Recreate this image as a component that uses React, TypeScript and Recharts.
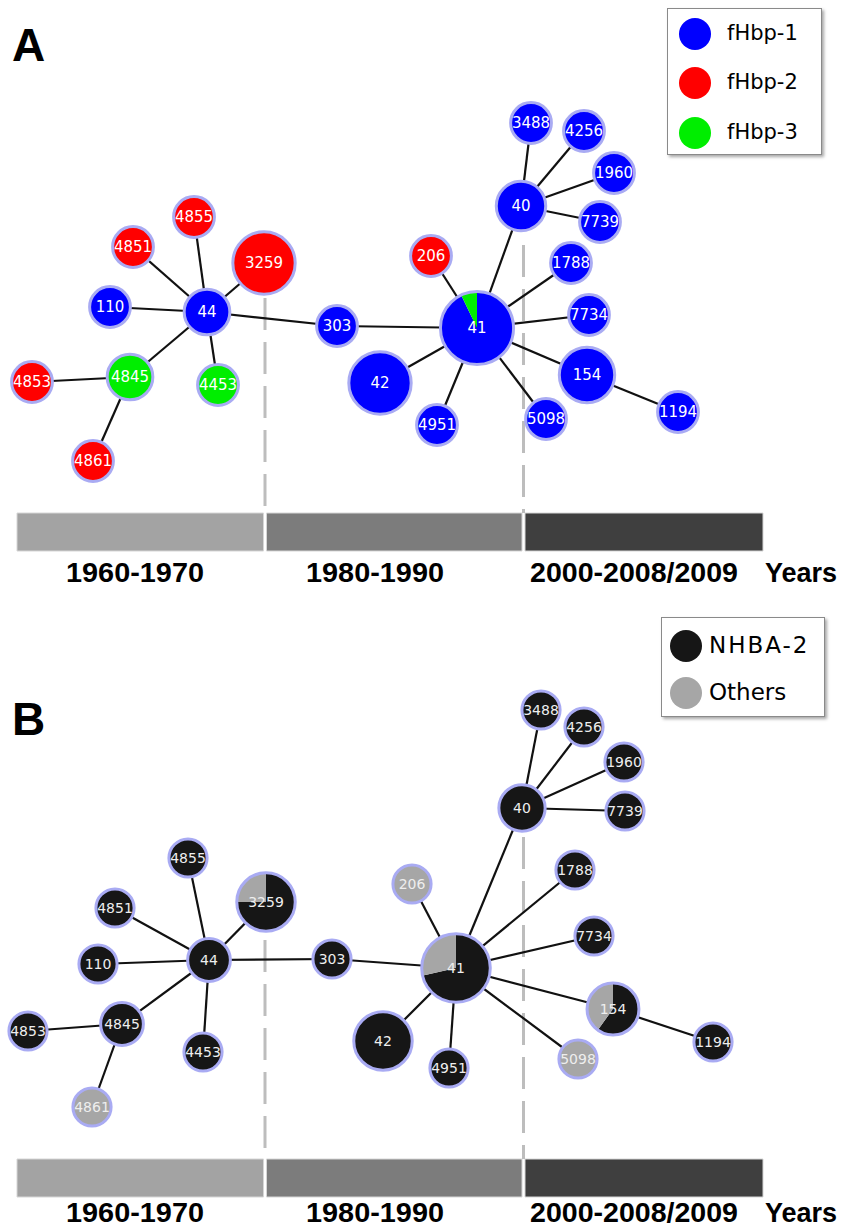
import React from "react";
import { ScatterChart, Scatter, XAxis, YAxis, ReferenceArea } from "recharts";

// MST nodes (sequence types), same order in every array below
const nodeIds = ["44", "4855", "4851", "3259", "110", "4845", "4853", "4861", "4453", "303", "41", "206", "40", "3488", "4256", "1960", "7739", "1788", "7734", "154", "1194", "5098", "4951", "42"];
const isolates = [2, 1, 1, 8, 1, 2, 1, 1, 1, 1, 14, 1, 3, 1, 1, 1, 1, 1, 1, 5, 1, 1, 1, 8];

// panel A: fHbp variant counts per node
const fhbp1 = [2, 0, 0, 0, 1, 0, 0, 0, 0, 1, 13, 0, 3, 1, 1, 1, 1, 1, 1, 5, 1, 1, 1, 8];
const fhbp2 = [0, 1, 1, 8, 0, 0, 1, 1, 0, 0, 0, 1, 0, 0, 0, 0, 0, 0, 0, 0, 0, 0, 0, 0];
const fhbp3 = [0, 0, 0, 0, 0, 2, 0, 0, 1, 0, 1, 0, 0, 0, 0, 0, 0, 0, 0, 0, 0, 0, 0, 0];

// panel B: NHBA peptide counts per node
const nhba2 = [2, 1, 1, 6, 1, 2, 1, 0, 1, 1, 10, 0, 3, 1, 1, 1, 1, 1, 1, 3, 1, 0, 1, 8];
const nhbaOther = [0, 0, 0, 2, 0, 0, 0, 1, 0, 0, 4, 1, 0, 0, 0, 0, 0, 0, 0, 2, 0, 1, 0, 0];

// layout coordinates of the two drawings
const layoutAX = [207, 194, 133, 264, 110, 130, 32, 93, 218, 337, 477, 431, 521, 531, 584, 614, 600, 571, 589, 587, 678, 546, 437, 380];
const layoutAY = [312, 217, 247, 263, 307, 377, 382, 461, 385, 326, 328, 256, 206, 123, 131, 173, 222, 263, 315, 375, 412, 419, 425, 383];
const layoutBX = [209, 188, 115, 266, 98, 122, 28, 92, 203, 332, 456, 412, 522, 541, 584, 624, 625, 575, 594, 613, 713, 578, 449, 383];
const layoutBY = [344, 242, 292, 286, 348, 408, 415, 491, 436, 343, 352, 268, 192, 94, 111, 146, 195, 254, 320, 393, 426, 443, 452, 425];

const edges: [string, string][] = [
  ["44", "4855"], ["44", "4851"], ["44", "3259"], ["44", "110"], ["44", "4845"], ["44", "4453"], ["44", "303"],
  ["4845", "4853"], ["4845", "4861"], ["303", "41"], ["41", "206"], ["41", "40"], ["41", "1788"], ["41", "7734"],
  ["41", "154"], ["41", "5098"], ["41", "4951"], ["41", "42"], ["40", "3488"], ["40", "4256"], ["40", "1960"],
  ["40", "7739"], ["154", "1194"],
];

const eraLabels = ["1960-1970", "1980-1990", "2000-2008/2009"];
const eraBounds = [17, 265, 523.5, 763];
const eraLabelX = [135, 375, 634];

const fhbpNames = ["fHbp-1", "fHbp-2", "fHbp-3"];
const nhbaNames = ["NHBA-2", "Others"];

const W = 842;
const H = 616;
const eraFills = ["#a3a3a3", "#7c7c7c", "#3f3f3f"];

function slicePath(cx: number, cy: number, r: number, a0: number, a1: number) {
  const x0 = cx + r * Math.cos(a0);
  const y0 = cy + r * Math.sin(a0);
  const x1 = cx + r * Math.cos(a1);
  const y1 = cy + r * Math.sin(a1);
  const large = a1 - a0 > Math.PI ? 1 : 0;
  return `M${cx},${cy} L${x0},${y0} A${r},${r} 0 ${large} 1 ${x1},${y1} Z`;
}

function makeNodeShape(colors: string[], labelColor: string, fontSize: number, rScale: number) {
  return (props: any) => {
    const { cx, cy, payload } = props;
    const r = (16 + 5.9 * Math.sqrt(payload.n)) * rScale;
    const vals: number[] = payload.shares;
    const total = vals.reduce((a, b) => a + b, 0);
    const used = vals.filter((v) => v > 0).length;
    let a = -Math.PI / 2;
    return (
      <g>
        {used === 1 ? (
          <circle cx={cx} cy={cy} r={r - 1} fill={colors[vals.findIndex((v) => v > 0)]} />
        ) : (
          vals.map((v, i) => {
            if (v <= 0) return null;
            const a0 = a;
            a += (2 * Math.PI * v) / total;
            return <path key={i} d={slicePath(cx, cy, r - 1, a0, a)} fill={colors[i]} />;
          })
        )}
        <circle cx={cx} cy={cy} r={r - 1.5} fill="none" stroke="#a9abf3" strokeWidth={3} />
        <text x={cx} y={cy} dy="0.36em" textAnchor="middle" fill={labelColor}
          style={{ fontFamily: "DejaVu Sans, Verdana, sans-serif", fontSize }}>
          {payload.id}
        </text>
      </g>
    );
  };
}

const eraText = (props: any) => {
  const { cx, cy, payload } = props;
  return (
    <text x={cx} y={cy} textAnchor={payload.anchor}
      textLength={payload.len || undefined} lengthAdjust="spacingAndGlyphs"
      style={{ fontFamily: "Liberation Sans, Arial, sans-serif", fontSize: 27, fontWeight: 700 }} fill="#000">
      {payload.text}
    </text>
  );
};

const noDot = () => <g />;

interface PanelProps {
  xs: number[];
  ys: number[];
  shares: number[][];
  colors: string[];
  labelColor: string;
  fontSize: number;
  rScale: number;
  barTop: number;
  labelGap: number;
  dashTops: number[];
}

function Panel({ xs, ys, shares, colors, labelColor, fontSize, rScale, barTop, labelGap, dashTops }: PanelProps) {
  const nodes = nodeIds.map((id, i) => ({ id, x: xs[i], y: ys[i], n: isolates[i], shares: shares[i] }));
  const pos = (id: string) => nodes[nodeIds.indexOf(id)];
  const barBottom = barTop + 38;
  const labelY = barBottom + labelGap;
  const eraTextData = [
    ...eraLabels.map((t, i) => ({ x: eraLabelX[i], y: labelY, text: t, anchor: "middle", len: t.length > 10 ? 208 : 138 })),
    { x: 765, y: labelY, text: "Years", anchor: "start", len: 0 },
  ];
  const nodeShape = makeNodeShape(colors, labelColor, fontSize, rScale);

  return (
    <ScatterChart width={W} height={H} margin={{ top: 0, right: 0, bottom: 0, left: 0 }}>
      <XAxis type="number" dataKey="x" domain={[0, W]} hide allowDataOverflow />
      <YAxis type="number" dataKey="y" domain={[0, H]} reversed hide allowDataOverflow />
      {eraLabels.map((t, i) => (
        <ReferenceArea key={t}
          x1={eraBounds[i] + (i > 0 ? 1.5 : 0)} x2={eraBounds[i + 1] - (i < 2 ? 1.5 : 0)}
          y1={barTop} y2={barBottom}
          fill={eraFills[i]} fillOpacity={1} stroke="#d6d6d6" strokeWidth={1} ifOverflow="visible" />
      ))}
      {dashTops.map((top, i) => (
        <Scatter key={"d" + i} data={[{ x: eraBounds[i + 1], y: top }, { x: eraBounds[i + 1], y: barTop }]}
          line={{ stroke: "#bdbdbd", strokeWidth: 3, strokeDasharray: "32 12" }}
          shape={noDot} isAnimationActive={false} legendType="none" />
      ))}
      {edges.map(([a, b]) => (
        <Scatter key={a + "-" + b} data={[pos(a), pos(b)]}
          line={{ stroke: "#111", strokeWidth: 2.2 }}
          shape={noDot} isAnimationActive={false} legendType="none" />
      ))}
      <Scatter data={nodes} shape={nodeShape} isAnimationActive={false} legendType="none" />
      <Scatter data={eraTextData} shape={eraText} isAnimationActive={false} legendType="none" />
    </ScatterChart>
  );
}

interface LegendProps {
  left: number;
  top: number;
  width: number;
  height: number;
  names: string[];
  colors: string[];
  rows: number[];
  dotX: number;
  textX: number;
  fontSize: number;
  spacing: number[];
}

function LegendBox({ left, top, width, height, names, colors, rows, dotX, textX, fontSize, spacing }: LegendProps) {
  return (
    <div style={{
      position: "absolute", left, top, width, height, boxSizing: "border-box",
      border: "1px solid #8a8a8a", background: "#fff", boxShadow: "2px 2px 3px rgba(0,0,0,0.35)",
    }}>
      {names.map((n, i) => (
        <React.Fragment key={n}>
          <div style={{
            position: "absolute", left: dotX - 16, top: rows[i] - 16, width: 32, height: 32,
            borderRadius: "50%", background: colors[i],
          }} />
          <div style={{
            position: "absolute", left: textX, top: rows[i] - fontSize * 0.6, lineHeight: `${fontSize * 1.2}px`,
            fontFamily: "DejaVu Sans, Verdana, sans-serif", fontSize, letterSpacing: spacing[i], color: "#000",
          }}>{n}</div>
        </React.Fragment>
      ))}
    </div>
  );
}

const panelLetter = (ch: string, top: number) => (
  <div style={{
    position: "absolute", left: 12, top, fontFamily: "Liberation Sans, Arial, sans-serif",
    fontSize: 46, fontWeight: 700, lineHeight: "46px", color: "#000",
  }}>{ch}</div>
);

export default function App() {
  const sharesA = nodeIds.map((_, i) => [fhbp1[i], fhbp2[i], fhbp3[i]]);
  const sharesB = nodeIds.map((_, i) => [nhba2[i], nhbaOther[i]]);
  const colorsA = ["#0000ff", "#ff0000", "#00ee00"];
  const colorsB = ["#161616", "#a6a6a6"];
  return (
    <div style={{ position: "absolute", left: 0, top: 0, width: W, height: 2 * H, background: "#fff", overflow: "hidden" }}>
      <div style={{ position: "absolute", left: 0, top: 0 }}>
        <Panel xs={layoutAX} ys={layoutAY} shares={sharesA} colors={colorsA} labelColor="#ffffff"
          fontSize={15} rScale={1} barTop={513} labelGap={31} dashTops={[298, 245]} />
      </div>
      <div style={{ position: "absolute", left: 0, top: H }}>
        <Panel xs={layoutBX} ys={layoutBY} shares={sharesB} colors={colorsB} labelColor="#eeeeee"
          fontSize={14} rScale={0.94} barTop={543} labelGap={25} dashTops={[324, 221]} />
      </div>
      {panelLetter("A", 22)}
      {panelLetter("B", 696)}
      <LegendBox left={667} top={8} width={155} height={147} names={fhbpNames} colors={colorsA}
        rows={[25, 74, 124]} dotX={27} textX={59} fontSize={21} spacing={[0, 0, 0]} />
      <LegendBox left={661} top={617} width={164} height={100} names={nhbaNames} colors={colorsB}
        rows={[28, 75]} dotX={24} textX={47} fontSize={23} spacing={[2, 0]} />
    </div>
  );
}
